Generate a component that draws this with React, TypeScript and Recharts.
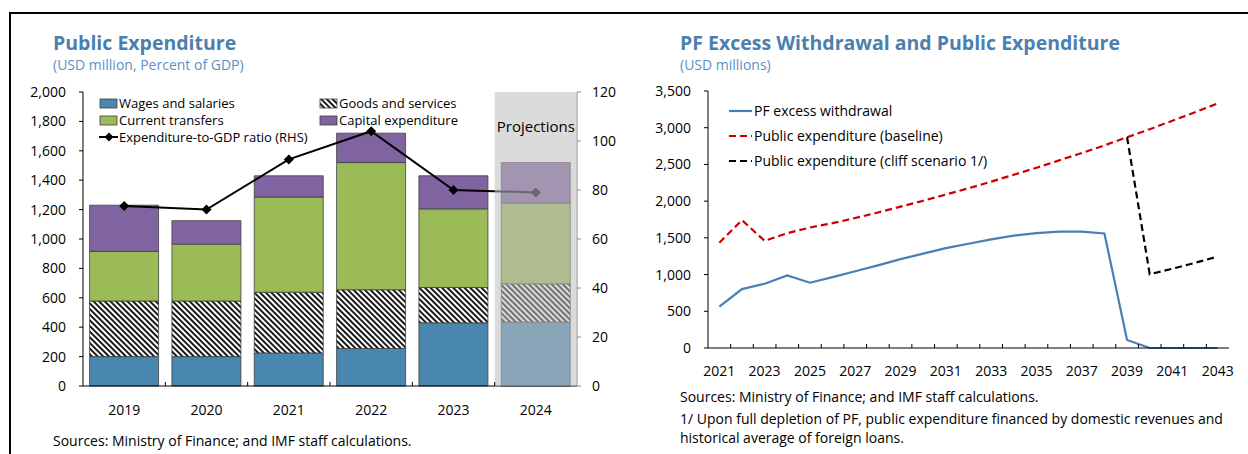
import React from 'react';
import { ComposedChart, Bar, Line, XAxis, YAxis, ReferenceArea } from 'recharts';

const FONT = "'Open Sans', 'Noto Sans', sans-serif";

// ---------- Left chart data ----------
const years = ['2019', '2020', '2021', '2022', '2023', '2024'];
const wagesAndSalaries = [200, 200, 225, 255, 430, 435];
const goodsAndServices = [378, 378, 413, 400, 240, 260];
const currentTransfers = [337, 387, 647, 865, 535, 550];
const capitalExpenditure = [315, 160, 145, 200, 225, 275];
const expenditureToGdp = [73.5, 72, 92.5, 104, 80, 79];
const projectionYear = '2024';
const leftAxisTicks = [0, 200, 400, 600, 800, 1000, 1200, 1400, 1600, 1800, 2000];
const rhsAxisTicks = [0, 20, 40, 60, 80, 100, 120];

// ---------- Right chart data ----------
const pfYears = ['2021', '2022', '2023', '2024', '2025', '2026', '2027', '2028', '2029', '2030', '2031', '2032', '2033', '2034', '2035', '2036', '2037', '2038', '2039', '2040', '2041', '2042', '2043'];
const pfExcessWithdrawal = [562, 802, 875, 988, 889, 965, 1045, 1125, 1210, 1285, 1360, 1420, 1480, 1530, 1565, 1585, 1585, 1560, 110, 0, 0, 0, 0];
const publicExpBaseline = [1433, 1741, 1460, 1564, 1641, 1700, 1770, 1845, 1925, 2005, 2090, 2175, 2265, 2360, 2455, 2555, 2655, 2760, 2870, 2980, 3095, 3210, 3330];
const publicExpCliff = [null, null, null, null, null, null, null, null, null, null, null, null, null, null, null, null, null, null, 2870, 1005, 1080, 1160, 1245];
const pfAxisTicks = [0, 500, 1000, 1500, 2000, 2500, 3000, 3500];

const leftData = years.map((y, i) => ({
  year: y,
  wages: wagesAndSalaries[i],
  goods: goodsAndServices[i],
  transfers: currentTransfers[i],
  capital: capitalExpenditure[i],
  ratio: expenditureToGdp[i],
}));

const rightData = pfYears.map((y, i) => ({
  year: y,
  pf: pfExcessWithdrawal[i],
  base: publicExpBaseline[i],
  cliff: publicExpCliff[i],
}));

const C_WAGES = '#4A87AF';
const C_TRANS = '#9BBB59';
const C_CAP = '#8064A2';
const C_TITLE = '#4A7FB0';
const C_SUB = '#5B90C4';
const C_BLUE = '#4A7EB4';
const C_RED = '#CC0000';

const fmt = (v: number) => v.toLocaleString('en-US');

const Diamond = (props: any) => {
  const { cx, cy } = props;
  if (cx == null || cy == null) return null;
  const r = 5;
  return <polygon points={`${cx},${cy - r} ${cx + r},${cy} ${cx},${cy + r} ${cx - r},${cy}`} fill="#000" />;
};

const makeBandTick = (total: number, every: number, labelDist: number, fontSize: number) => (props: any) => {
  const { x, y, payload } = props;
  const idx = payload?.index ?? props.index ?? 0;
  const half = payload?.offset ?? 0;
  return (
    <g>
      {idx < total - 1 && (
        <line x1={x + half} x2={x + half} y1={y} y2={y - 4} stroke="#000" strokeWidth={1} />
      )}
      {idx % every === 0 && (
        <text x={x} y={y + labelDist} dy="0.36em" textAnchor="middle" fontSize={fontSize} fill="#000" fontFamily={FONT}>
          {payload.value}
        </text>
      )}
    </g>
  );
};

const LeftTick = makeBandTick(years.length, 1, 24, 14);
const RightTick = makeBandTick(pfYears.length, 2, 23, 14);

const axisTickStyle = { fontSize: 14, fill: '#000', fontFamily: FONT };

export default function App() {
  return (
    <div style={{ position: 'absolute', left: 0, top: 0, width: 1248, height: 454, background: '#fff', fontFamily: FONT, overflow: 'hidden' }}>
      <svg width={0} height={0} style={{ position: 'absolute' }}>
        <defs>
          <pattern id="hatch" patternUnits="userSpaceOnUse" width={4} height={4} patternTransform="rotate(-45)">
            <rect x={0} y={0} width={4} height={4} fill="#fff" />
            <line x1={1} y1={0} x2={1} y2={4} stroke="#000" strokeWidth={1.8} />
          </pattern>
        </defs>
      </svg>

      {/* frame */}
      <div style={{ position: 'absolute', left: 9, top: 12, width: 1260, height: 460, borderTop: '2px solid #000', borderLeft: '2px solid #000' }} />

      {/* Left chart */}
      <div style={{ position: 'absolute', left: 0, top: 0 }}>
        <ComposedChart width={640} height={454} data={leftData} margin={{ top: 92, right: 13, bottom: 38, left: 33 }} barCategoryGap="8%">
          <XAxis dataKey="year" scale="band" height={30} interval={0} tickSize={0} tickMargin={0} tickLine={false} axisLine={{ stroke: '#000', strokeWidth: 1.2 }} tick={LeftTick} />
          <XAxis xAxisId="top" dataKey="year" scale="band" orientation="top" height={0} tick={false} tickLine={false} axisLine={{ stroke: '#8c8c8c' }} />
          <YAxis yAxisId="left" domain={[0, 2000]} ticks={leftAxisTicks} interval={0} width={50} tickSize={4} tickMargin={13} tickFormatter={fmt} tick={axisTickStyle} axisLine={{ stroke: '#000' }} tickLine={{ stroke: '#000' }} />
          <YAxis yAxisId="right" orientation="right" domain={[0, 120]} ticks={rhsAxisTicks} interval={0} width={50} tickSize={4} tickMargin={11} tick={axisTickStyle} axisLine={{ stroke: '#8c8c8c' }} tickLine={{ stroke: '#8c8c8c' }} />
          <Bar yAxisId="left" dataKey="wages" stackId="s" fill={C_WAGES} stroke="#404040" strokeWidth={0.8} isAnimationActive={false} />
          <Bar yAxisId="left" dataKey="goods" stackId="s" fill="url(#hatch)" stroke="#404040" strokeWidth={0.8} isAnimationActive={false} />
          <Bar yAxisId="left" dataKey="transfers" stackId="s" fill={C_TRANS} stroke="#404040" strokeWidth={0.8} isAnimationActive={false} />
          <Bar yAxisId="left" dataKey="capital" stackId="s" fill={C_CAP} stroke="#404040" strokeWidth={0.8} isAnimationActive={false} />
          <Line yAxisId="right" dataKey="ratio" stroke="#000" strokeWidth={2} dot={<Diamond />} activeDot={false} isAnimationActive={false} />
          <ReferenceArea
            yAxisId="left"
            x1={projectionYear}
            x2={projectionYear}
            y1={0}
            y2={2000}
            fill="#BDBDBD"
            fillOpacity={0.55}
            stroke="none"
            ifOverflow="visible"
            zIndex={1000}
            label={{ value: 'Projections', position: 'insideTop', offset: 29, fill: '#000', fontSize: 15, fontFamily: FONT }}
          />
        </ComposedChart>
      </div>

      {/* Right chart */}
      <div style={{ position: 'absolute', left: 624, top: 0 }}>
        <ComposedChart width={624} height={454} data={rightData} margin={{ top: 91, right: 19, bottom: 76, left: 24 }}>
          <XAxis dataKey="year" scale="band" height={30} interval={0} tickSize={0} tickMargin={0} tickLine={false} axisLine={{ stroke: '#000', strokeWidth: 1.2 }} tick={RightTick} />
          <XAxis xAxisId="top" dataKey="year" scale="band" orientation="top" height={0} tick={false} tickLine={false} axisLine={{ stroke: '#8c8c8c' }} />
          <YAxis domain={[0, 3500]} ticks={pfAxisTicks} interval={0} width={60} tickSize={4} tickMargin={13} tickFormatter={fmt} tick={axisTickStyle} axisLine={{ stroke: '#000' }} tickLine={{ stroke: '#000' }} />
          <YAxis yAxisId="border" orientation="right" width={0} tick={false} tickLine={false} axisLine={{ stroke: '#333' }} />
          <Line dataKey="pf" stroke={C_BLUE} strokeWidth={2.2} dot={false} activeDot={false} isAnimationActive={false} />
          <Line dataKey="base" stroke={C_RED} strokeWidth={2.2} strokeDasharray="7 4" dot={false} activeDot={false} isAnimationActive={false} />
          <Line dataKey="cliff" stroke="#000" strokeWidth={2.2} strokeDasharray="7 4" dot={false} activeDot={false} isAnimationActive={false} />
        </ComposedChart>
      </div>

      {/* Titles, legends, footnotes */}
      <svg width={1248} height={454} style={{ position: 'absolute', left: 0, top: 0, pointerEvents: 'none' }} fontFamily={FONT}>
        <text x={53} y={50} fontSize={19.5} fontWeight="bold" fill={C_TITLE}>Public Expenditure</text>
        <text x={53} y={70} fontSize={14} fill={C_SUB}>(USD million, Percent of GDP)</text>
        <text x={680} y={50} fontSize={19.5} fontWeight="bold" fill={C_TITLE}>PF Excess Withdrawal and Public Expenditure</text>
        <text x={680} y={70} fontSize={14} fill={C_SUB}>(USD millions)</text>

        {/* left legend */}
        <g fontSize={13} fill="#000">
          <rect x={100} y={99} width={17} height={9} fill={C_WAGES} stroke="#404040" strokeWidth={0.8} />
          <text x={119} y={108}>Wages and salaries</text>
          <rect x={320} y={99} width={17} height={9} fill="url(#hatch)" stroke="#404040" strokeWidth={0.8} />
          <text x={339} y={108}>Goods and services</text>
          <rect x={100} y={116} width={17} height={9} fill={C_TRANS} stroke="#404040" strokeWidth={0.8} />
          <text x={119} y={125}>Current transfers</text>
          <rect x={320} y={116} width={17} height={9} fill={C_CAP} stroke="#404040" strokeWidth={0.8} />
          <text x={339} y={125}>Capital expenditure</text>
          <line x1={99} x2={118} y1={137} y2={137} stroke="#000" strokeWidth={2} />
          <polygon points="109,132.5 113.5,137 109,141.5 104.5,137" fill="#000" />
          <text x={119} y={142}>Expenditure-to-GDP ratio (RHS)</text>
        </g>

        {/* right legend */}
        <g fontSize={14} fill="#000">
          <line x1={729} x2={752} y1={111} y2={111} stroke={C_BLUE} strokeWidth={2.2} />
          <text x={754} y={116}>PF excess withdrawal</text>
          <line x1={729} x2={752} y1={136} y2={136} stroke={C_RED} strokeWidth={2.2} strokeDasharray="7 4" />
          <text x={754} y={141}>Public expenditure (baseline)</text>
          <line x1={729} x2={752} y1={161} y2={161} stroke="#000" strokeWidth={2.2} strokeDasharray="7 4" />
          <text x={754} y={166}>Public expenditure (cliff scenario 1/)</text>
        </g>

        <g fontSize={14} fill="#000">
          <text x={53} y={446}>Sources: Ministry of Finance; and IMF staff calculations.</text>
          <text x={680} y={402}>Sources: Ministry of Finance; and IMF staff calculations.</text>
          <text x={680} y={424}>1/ Upon full depletion of PF, public expenditure financed by domestic revenues and</text>
          <text x={680} y={443}>historical average of foreign loans.</text>
        </g>
      </svg>
    </div>
  );
}
